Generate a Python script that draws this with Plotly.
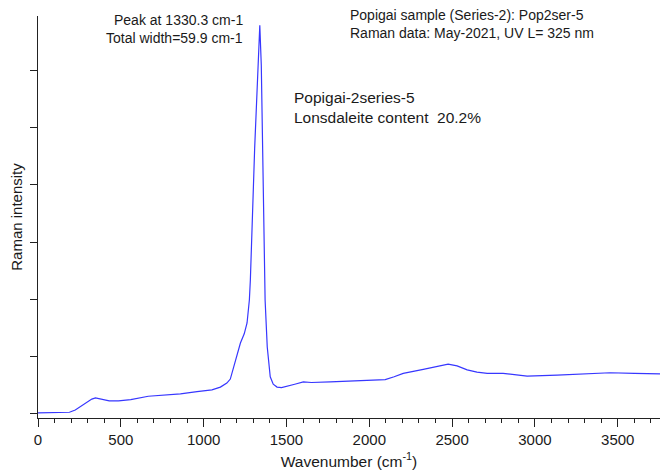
import plotly.graph_objects as go

wavenumber = [0, 100, 190, 225, 250, 275, 300, 325, 347, 365, 385, 430, 486, 560, 666,
              760, 860, 960, 1050, 1101, 1140, 1161, 1191, 1210, 1222, 1245, 1262, 1276,
              1282, 1308, 1330, 1339, 1348, 1356, 1371, 1384, 1402, 1420, 1443, 1470,
              1503, 1550, 1602, 1650, 1764, 1900, 2006, 2096, 2150, 2205, 2326, 2420,
              2476, 2530, 2591, 2650, 2712, 2808, 2953, 3134, 3300, 3454, 3600, 3755]
intensity = [0.02, 0.02, 0.03, 0.07, 0.12, 0.17, 0.22, 0.26, 0.28, 0.27, 0.25, 0.23, 0.23,
             0.25, 0.31, 0.33, 0.35, 0.39, 0.42, 0.47, 0.54, 0.61, 0.90, 1.12, 1.24, 1.40,
             1.59, 1.99, 2.34, 4.64, 6.09, 6.79, 6.09, 4.64, 1.99, 1.17, 0.65, 0.52, 0.47,
             0.46, 0.48, 0.52, 0.56, 0.55, 0.56, 0.58, 0.59, 0.60, 0.65, 0.71, 0.78, 0.83,
             0.87, 0.84, 0.77, 0.73, 0.71, 0.71, 0.66, 0.68, 0.70, 0.72, 0.71, 0.70]

x_tick_vals = [0, 500, 1000, 1500, 2000, 2500, 3000, 3500]
x_tick_text = ["0", "500", "1000", "1500", "2000", "2500", "3000", "3500"]

FONT = "Liberation Sans, Arial, sans-serif"
TXT = "#1a1a1a"

fig = go.Figure()
fig.add_trace(go.Scatter(x=wavenumber, y=intensity, mode="lines",
                         line=dict(color="rgb(55,55,255)", width=1.2),
                         showlegend=False, hoverinfo="skip"))

fig.update_layout(
    width=660, height=474,
    margin=dict(l=38, r=0, t=16, b=56),
    paper_bgcolor="white", plot_bgcolor="white",
    font=dict(family=FONT, color=TXT, size=14),
    xaxis=dict(range=[0, 3755], showgrid=False, zeroline=False,
               showline=True, linecolor="#222", linewidth=1.3,
               ticks="outside", ticklen=8, tickwidth=1, tickcolor="#222",
               tickvals=x_tick_vals, ticktext=x_tick_text,
               tickfont=dict(size=15, color=TXT, family=FONT),
               minor=dict(dtick=100, ticks="outside", ticklen=4, tickcolor="#222", showgrid=False),
               title=dict(text="Wavenumber (cm<sup>-1</sup>)", font=dict(size=15.5, color=TXT), standoff=8)),
    yaxis=dict(range=[-0.07, 6.95], showgrid=False, zeroline=False,
               showline=True, linecolor="#222", linewidth=1.3,
               ticks="outside", ticklen=7, tickwidth=1, tickcolor="#222",
               dtick=1, tick0=0, showticklabels=False,
               title=dict(text="Raman intensity", font=dict(size=15, color=TXT), standoff=3)),
)

def note(text, x, y, anchor, size):
    fig.add_annotation(text=text, xref="paper", yref="paper", x=x, y=y,
                       xanchor=anchor, yanchor="middle", showarrow=False,
                       font=dict(size=size, color=TXT, family=FONT))

W = 660 - 38
H = 474 - 16 - 56
def px(xp):
    return (xp - 38) / W
def py(yp):
    return (474 - 56 - yp) / H

note("Peak at 1330.3 cm-1", px(245), py(20), "right", 14)
note("Total width=59.9 cm-1", px(245), py(38), "right", 14)
note("Popigai sample (Series-2): Pop2ser-5", px(348), py(15), "left", 14)
note("Raman data: May-2021, UV L= 325 nm", px(348), py(33), "left", 14)
note("Popigai-2series-5", px(292), py(98), "left", 15.5)
note("Lonsdaleite content  20.2%", px(292), py(118), "left", 15.5)

fig.write_html("out.html")
